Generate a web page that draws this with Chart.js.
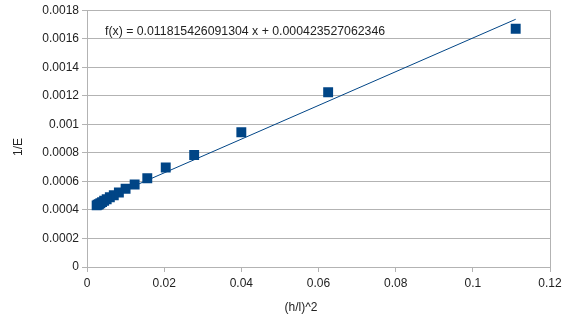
<!DOCTYPE html>
<html>
<head>
<meta charset="utf-8">
<script src="https://cdn.jsdelivr.net/npm/chart.js@4/dist/chart.umd.min.js"></script>
<style>
  html, body { margin: 0; padding: 0; background: #fff; }
  #wrap { width: 569px; height: 329px; }
</style>
</head>
<body>
<div id="wrap"><canvas id="chart"></canvas></div>
<script>
// Measured points: (h/l)^2 against 1/E
const xValues = [0.111111, 0.0625, 0.04, 0.027778, 0.020408, 0.015625, 0.012346, 0.01,
                 0.008264, 0.006944, 0.005917, 0.005102, 0.004444, 0.003906, 0.00346,
                 0.003086, 0.00277, 0.0025];
const yValues = [0.00167, 0.001225, 0.000945, 0.000785, 0.000697, 0.000622, 0.000578, 0.000548,
                 0.000522, 0.000503, 0.000489, 0.000475, 0.000464, 0.000455, 0.000447,
                 0.00044, 0.000436, 0.000432];

// Linear trend line coefficients
const slope = 0.011815426091304;
const intercept = 0.000423527062346;

const xTicks = [0, 0.02, 0.04, 0.06, 0.08, 0.1, 0.12];
const yTicks = [0, 0.0002, 0.0004, 0.0006, 0.0008, 0.001, 0.0012, 0.0014, 0.0016, 0.0018];

const blue = '#004586';
const gridColor = '#b3b3b3';
const textColor = '#222';

const points = xValues.map((x, i) => ({ x: x, y: yValues[i] }));
const xMin = Math.min(...xValues);
const xMax = Math.max(...xValues);
const trend = [xMin, xMax].map(x => ({ x: x, y: slope * x + intercept }));

const fmt = v => String(+v.toFixed(6));

// Equation and axis titles
const labelsPlugin = {
    id: 'labels',
    afterDraw(chart) {
        const ctx = chart.ctx;
        ctx.save();
        ctx.fillStyle = textColor;
        ctx.font = '12.3px "Liberation Sans", Arial, sans-serif';
        ctx.textAlign = 'left';
        ctx.textBaseline = 'alphabetic';
        ctx.fillText('f(x) = ' + slope + ' x + ' + intercept, 105, 35);

        ctx.font = '12px "Liberation Sans", Arial, sans-serif';
        ctx.textAlign = 'center';
        ctx.textBaseline = 'middle';
        ctx.fillText('(h/l)^2', 301, 308);

        ctx.translate(19, 147);
        ctx.rotate(-Math.PI / 2);
        ctx.fillText('1/E', 0, 0);
        ctx.restore();
    }
};

new Chart(document.getElementById('chart'), {
    type: 'scatter',
    data: {
        datasets: [
            {
                data: points,
                pointStyle: 'rect',
                pointRadius: 7,
                pointHoverRadius: 7,
                backgroundColor: blue,
                borderColor: blue,
                borderWidth: 0
            },
            {
                type: 'line',
                data: trend,
                borderColor: blue,
                borderWidth: 1,
                pointRadius: 0,
                fill: false
            }
        ]
    },
    options: {
        responsive: true,
        maintainAspectRatio: false,
        animation: false,
        layout: { padding: { top: 10, right: 19, left: 0, bottom: 0 } },
        plugins: {
            legend: { display: false },
            tooltip: { enabled: false }
        },
        scales: {
            x: {
                type: 'linear',
                min: 0,
                max: 0.12,
                afterFit: scale => { scale.height = 62; },
                afterBuildTicks: scale => { scale.ticks = xTicks.map(v => ({ value: v })); },
                border: { color: gridColor },
                grid: {
                    color: c => (c.tick && c.tick.value === 0.12) ? gridColor : 'transparent',
                    tickColor: gridColor,
                    tickLength: 5
                },
                ticks: {
                    color: textColor,
                    font: { family: '"Liberation Sans", Arial, sans-serif', size: 12 },
                    padding: 4,
                    maxRotation: 0,
                    callback: v => fmt(v)
                }
            },
            y: {
                type: 'linear',
                min: 0,
                max: 0.0018,
                afterFit: scale => { scale.width = 87; },
                afterBuildTicks: scale => { scale.ticks = yTicks.map(v => ({ value: v })); },
                border: { color: gridColor },
                grid: {
                    color: gridColor,
                    tickColor: gridColor,
                    tickLength: 5
                },
                ticks: {
                    color: textColor,
                    font: { family: '"Liberation Sans", Arial, sans-serif', size: 12 },
                    padding: 3,
                    callback: v => fmt(v)
                }
            }
        }
    },
    plugins: [labelsPlugin]
});
</script>
</body>
</html>
